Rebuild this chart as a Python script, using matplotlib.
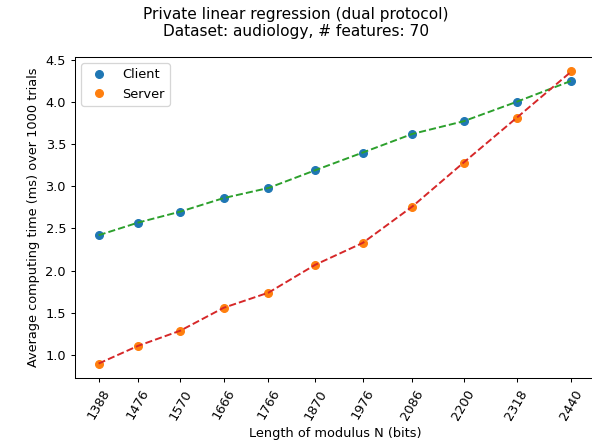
import matplotlib.pyplot as plt

bits = [1388, 1476, 1570, 1666, 1766, 1870, 1976, 2086, 2200, 2318, 2440]
client = [2.42, 2.57, 2.70, 2.86, 2.98, 3.19, 3.40, 3.62, 3.77, 4.00, 4.25]
server = [0.90, 1.11, 1.29, 1.56, 1.74, 2.07, 2.33, 2.76, 3.28, 3.81, 4.36]

fig = plt.figure(figsize=(6.4, 4.8), dpi=92.5)
ax = fig.add_axes([75 / 592, 66 / 445, 520 / 592, 322 / 445])
ax.plot(bits, client, 'o', label='Client', color='tab:blue')
ax.plot(bits, server, 'o', label='Server', color='tab:orange')
ax.plot(bits, client, '--', color='tab:green')
ax.plot(bits, server, '--', color='tab:red')
ax.set_xticks(bits)
ax.set_xticklabels([str(b) for b in bits], rotation=60)
ax.set_xlabel('Length of modulus N (bits)')
ax.set_ylabel('Average computing time (ms) over 1000 trials')
fig.suptitle('Private linear regression (dual protocol)\nDataset: audiology, # features: 70', y=0.985)
ax.legend(loc='upper left')
fig.savefig('out.png')
